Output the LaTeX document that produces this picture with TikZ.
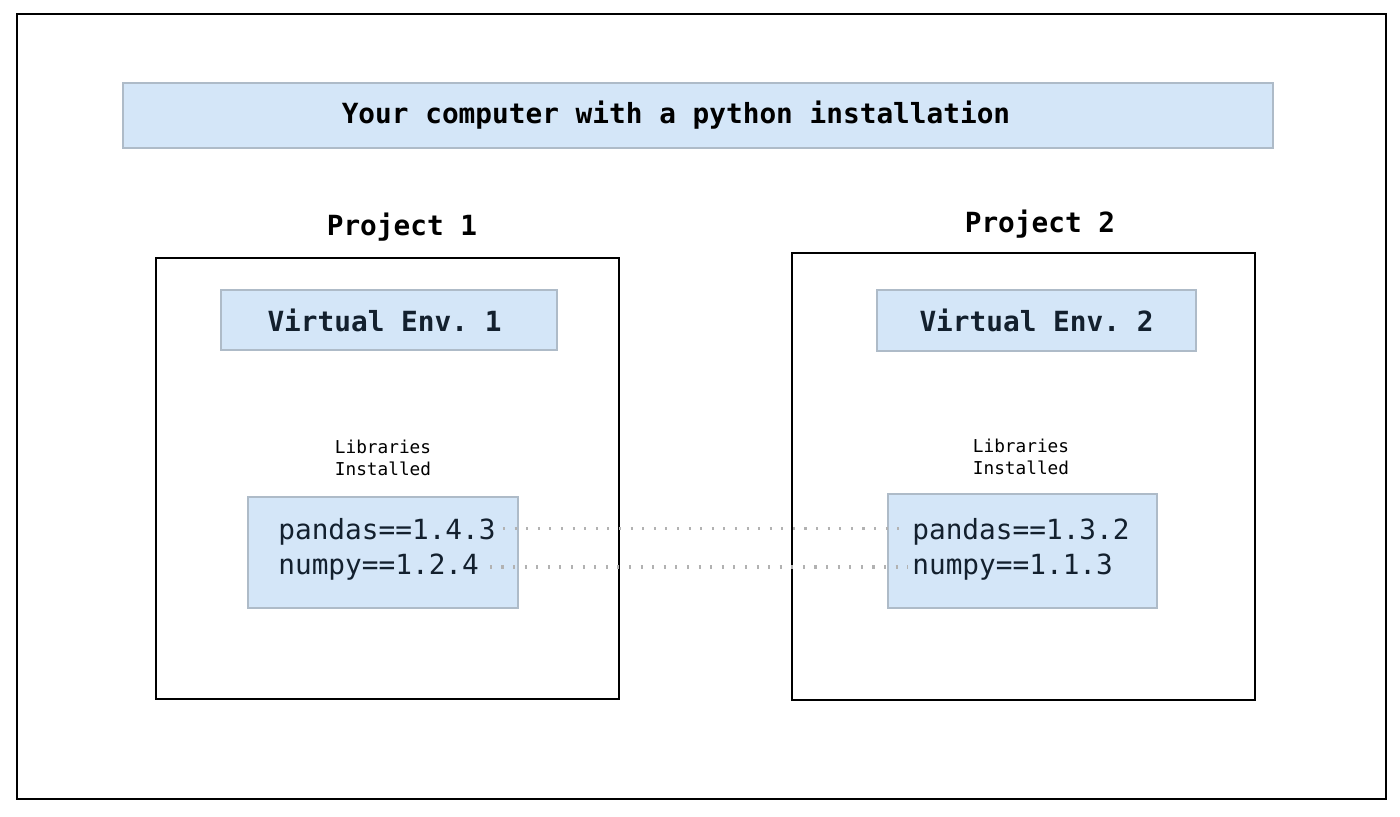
\documentclass[tikz,border=0pt]{standalone}
\usepackage{fontspec}
\setmonofont{DejaVu Sans Mono}
\usetikzlibrary{positioning}
\definecolor{boxblue}{HTML}{D4E6F8}
\definecolor{boxedge}{HTML}{AEBBC8}
\definecolor{inkblue}{HTML}{13202E}

\begin{document}
\begin{tikzpicture}[
    x=0.02cm, y=-0.02cm,
    every node/.style={font=\ttfamily\fontsize{15.8}{19}\selectfont, inner sep=0pt},
    bluebox/.style={draw=boxedge, line width=1.2pt, fill=boxblue},
    project/.style={draw=black, line width=1.1pt},
    heading/.style={font=\ttfamily\bfseries\fontsize{15.8}{19}\selectfont},
    small/.style={font=\ttfamily\fontsize{10.1}{12.5}\selectfont, align=center},
    pkg/.style={anchor=west, text=inkblue},
    link/.style={gray!60, line width=1.8pt, dash pattern=on 1.2pt off 5.4pt}
]
\useasboundingbox (0,0) rectangle (1400,817);

% Frame
\draw[line width=1.2pt] (17,14) rectangle (1386,799);

% Top
\node[bluebox, heading, minimum width=23cm, minimum height=1.3cm] (comp) at (698,115.5)
    {\raisebox{-3pt}{Your computer with a python installation}\hspace*{0.88cm}};

% Project 1
\node[project, minimum width=9.26cm, minimum height=8.82cm] (prj1) at (387.5,478.5) {};
\node[heading] (lbl1) at (402,227) {Project 1};
\node[bluebox, heading, text=inkblue, minimum width=6.72cm, minimum height=1.2cm] (env1) at (389,320) {Virtual Env. 1\hspace*{0.18cm}};
\node[small] (inst1) at (383,458) {Libraries\\Installed};
\node[bluebox, minimum width=5.4cm, minimum height=2.22cm] (libs1) at (383,552.5) {};
\node[pkg] (pd1) at (278,532) {pandas==1.4.3};
\node[pkg] (np1) at (278,567) {numpy==1.2.4};

% Project 2
\node[project, minimum width=9.26cm, minimum height=8.94cm] (prj2) at (1023.5,476.5) {};
\node[heading] (lbl2) at (1040,224) {Project 2};
\node[bluebox, heading, text=inkblue, minimum width=6.38cm, minimum height=1.22cm] (env2) at (1036.5,320.5) {Virtual Env. 2};
\node[small] (inst2) at (1021,457) {Libraries\\Installed};
\node[bluebox, minimum width=5.38cm, minimum height=2.28cm] (libs2) at (1022.5,551) {};
\node[pkg] (pd2) at (912,532) {pandas==1.3.2};
\node[pkg] (np2) at (912,567) {numpy==1.1.3};

% Version links
\draw[link] ([xshift=4pt, yshift=2pt]pd1.east) -- ([xshift=-2pt, yshift=2pt]pd2.west);
\draw[link] ([xshift=6pt]np1.east) -- ([xshift=-2pt]np2.west);
\end{tikzpicture}
\end{document}
